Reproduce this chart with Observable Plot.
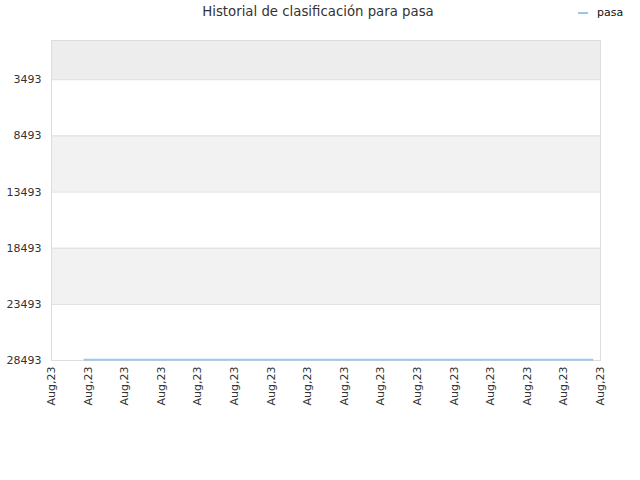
<!DOCTYPE html>
<html>
<head>
<meta charset="utf-8">
<script src="https://cdn.jsdelivr.net/npm/d3@7"></script>
<script src="https://cdn.jsdelivr.net/npm/@observablehq/plot@0.6"></script>
<style>
  body { margin: 0; background: #fff; font-family: "DejaVu Sans", sans-serif; }
  #wrap { position: relative; width: 640px; height: 480px; }
  #title { position: absolute; top: 4px; left: 0; width: 636px; text-align: center; font-size: 13.3px; color: #333; }
  #legend { position: absolute; top: 6px; left: 578px; font-size: 11px; color: #111; display: flex; align-items: center; }
  #legend span.sw { display: inline-block; width: 10px; height: 2px; background: #9cc6ea; margin-right: 9px; }
</style>
</head>
<body>
<div id="wrap">
  <div id="title">Historial de clasificación para pasa</div>
  <div id="legend"><span class="sw"></span>pasa</div>
  <div id="chart"></div>
</div>
<script>
const seriesName = "pasa";
const xTicks = [0,1,2,3,4,5,6,7,8,9,10,11,12,13,14,15];
const xTickLabel = "Aug,23";
const yTicks = [3493, 8493, 13493, 18493, 23493, 28493];
const bandStarts = [0, 3493, 8493, 13493, 18493, 23493];
const bandEnds = [3493, 8493, 13493, 18493, 23493, 28493];
const bandFills = ["#ededed", "#ffffff", "#f2f2f2", "#ffffff", "#f2f2f2", "#ffffff"];
const dayIndex = [0.9, 14.78];
const rank = [28420, 28420];

const bands = bandStarts.map((s, i) => ({y1: s, y2: bandEnds[i], fill: bandFills[i]}));
const series = dayIndex.map((d, i) => ({x: d, y: rank[i]}));

const chart = Plot.plot({
  width: 640,
  height: 480,
  marginLeft: 51,
  marginRight: 40,
  marginTop: 40,
  marginBottom: 120,
  style: {fontFamily: "DejaVu Sans, sans-serif", fontSize: "11px", color: "#333", background: "#fff"},
  x: {domain: [0, 15], label: null},
  y: {domain: [0, 28493], reverse: true, label: null},
  marks: [
    Plot.rectY(bands, {x1: 0, x2: 15, y1: "y1", y2: "y2", fill: "fill"}),
    Plot.ruleY(yTicks, {stroke: "#dddddd", strokeWidth: 1}),
    Plot.frame({stroke: "#dddddd"}),
    Plot.line(series, {x: "x", y: "y", stroke: "#9cc6ea", strokeWidth: 2}),
    Plot.axisX({ticks: xTicks, tickFormat: () => xTickLabel, tickRotate: -90, tickSize: 0, tickPadding: 6, label: null}),
    Plot.axisY({ticks: yTicks, tickFormat: d => String(d), tickSize: 0, tickPadding: 10, label: null})
  ]
});
document.getElementById("chart").appendChild(chart);
</script>
</body>
</html>
